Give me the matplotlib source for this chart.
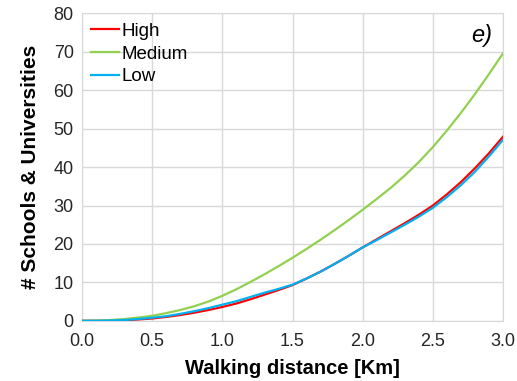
import matplotlib
matplotlib.use("Agg")
import matplotlib.pyplot as plt

plt.rcParams['font.family'] = ['Liberation Sans', 'DejaVu Sans']

# walking distance [km]
dist = [0.0, 0.1, 0.2, 0.3, 0.4, 0.5, 0.6, 0.7, 0.8, 0.9, 1.0,
        1.1, 1.2, 1.3, 1.4, 1.5, 1.6, 1.7, 1.8, 1.9, 2.0,
        2.1, 2.2, 2.3, 2.4, 2.5, 2.6, 2.7, 2.8, 2.9, 3.0]

high = [0.0, 0.0, 0.05, 0.15, 0.35, 0.6, 1.0, 1.5, 2.1, 2.8, 3.6,
        4.5, 5.6, 6.8, 8.0, 9.3, 11.0, 12.8, 14.8, 16.9, 19.1,
        21.2, 23.3, 25.4, 27.6, 30.0, 32.9, 36.1, 39.7, 43.6, 47.9]
medium = [0.0, 0.05, 0.2, 0.45, 0.85, 1.3, 2.0, 2.8, 3.8, 5.0, 6.5,
          8.2, 10.1, 12.1, 14.2, 16.4, 18.7, 21.1, 23.6, 26.2, 28.9,
          31.7, 34.6, 37.8, 41.3, 45.2, 49.5, 54.1, 59.0, 64.2, 69.6]
low = [0.0, 0.0, 0.08, 0.2, 0.45, 0.8, 1.2, 1.8, 2.5, 3.3, 4.2,
       5.1, 6.2, 7.3, 8.3, 9.4, 11.0, 12.8, 14.8, 16.9, 19.1,
       21.0, 23.0, 25.0, 27.1, 29.4, 32.2, 35.3, 38.8, 42.8, 47.1]

fig = plt.figure(figsize=(5.17, 3.81), dpi=100)
ax = fig.add_axes([0.1586, 0.158, 0.8144, 0.807])

ax.plot(dist, high, color='#ff0000', lw=1.6, label='High', zorder=3)
ax.plot(dist, medium, color='#92d050', lw=1.6, label='Medium', zorder=3)
ax.plot(dist, low, color='#00b0f0', lw=1.6, label='Low', zorder=4)

ax.set_xlim(0, 3)
ax.set_ylim(0, 80)
ax.set_xticks([0, 0.5, 1.0, 1.5, 2.0, 2.5, 3.0])
ax.set_xticklabels(['0.0', '0.5', '1.0', '1.5', '2.0', '2.5', '3.0'])
ax.set_yticks(range(0, 81, 10))
ax.grid(True, color='#d9d9d9', lw=1)
ax.set_axisbelow(True)
for s in ax.spines.values():
    s.set_color('#d9d9d9')
ax.tick_params(length=0, labelsize=13, colors='#262626', pad=6)
ax.tick_params(axis='x', pad=9)

ax.set_xlabel('Walking distance [Km]', fontsize=14.5, fontweight='bold', labelpad=6)
ax.set_ylabel('# Schools & Universities', fontsize=15, fontweight='bold', labelpad=10)

ax.legend(loc='upper left', frameon=False, fontsize=13.5, handlelength=1.5,
          handletextpad=0.1, labelspacing=0.3, borderaxespad=0.1)
ax.text(0.975, 0.965, 'e)', transform=ax.transAxes, fontsize=17, style='italic',
        ha='right', va='top')

fig.savefig('out.png', dpi=100)
